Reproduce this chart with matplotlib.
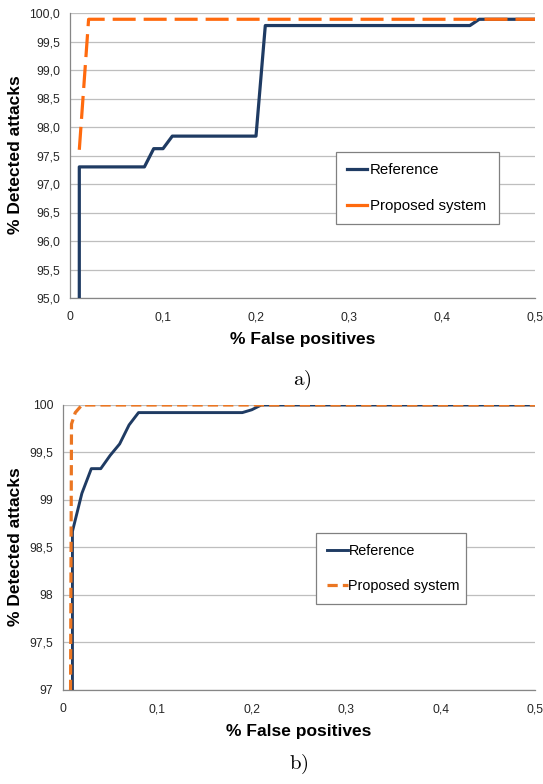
import numpy as np
import matplotlib
matplotlib.use("Agg")
import matplotlib.pyplot as plt

plt.rcParams['font.family'] = ['Liberation Sans', 'DejaVu Sans']
plt.rcParams['mathtext.fontset'] = 'cm'

# panel a)
a_ref_x = [0.01, 0.01, 0.08, 0.09, 0.10, 0.11, 0.20, 0.21, 0.43, 0.44, 0.50]
a_ref_y = [95.0, 97.30, 97.30, 97.62, 97.62, 97.84, 97.84, 99.78, 99.78, 99.89, 99.89]
a_prop_x = [0.01, 0.02, 0.50]
a_prop_y = [97.60, 99.89, 99.89]
a_yticks = [95.0, 95.5, 96.0, 96.5, 97.0, 97.5, 98.0, 98.5, 99.0, 99.5, 100.0]
a_ylabels = ['95,0', '95,5', '96,0', '96,5', '97,0', '97,5', '98,0', '98,5', '99,0', '99,5', '100,0']

# panel b)
b_ref_x = [0.01, 0.01, 0.02, 0.03, 0.04, 0.05, 0.06, 0.07, 0.08, 0.19, 0.20, 0.21, 0.50]
b_ref_y = [97.0, 98.67, 99.07, 99.33, 99.33, 99.47, 99.59, 99.79, 99.92, 99.92, 99.95, 100.0, 100.0]
b_prop_x = [0.008, 0.009, 0.013, 0.02, 0.50]
b_prop_y = [97.0, 99.80, 99.92, 100.0, 100.0]
b_yticks = [97.0, 97.5, 98.0, 98.5, 99.0, 99.5, 100.0]
b_ylabels = ['97', '97,5', '98', '98,5', '99', '99,5', '100']

xticks = [0, 0.1, 0.2, 0.3, 0.4, 0.5]
xlabels = ['0', '0,1', '0,2', '0,3', '0,4', '0,5']

navy = '#1F3B63'
W, H = 543, 784

fig = plt.figure(figsize=(W / 100, H / 100), dpi=100)


def setup(ax, yticks, ylabels):
    ax.set_xlim(0, 0.5)
    ax.set_ylim(yticks[0], yticks[-1])
    ax.set_xticks(xticks)
    ax.set_xticklabels(xlabels)
    ax.set_yticks(yticks)
    ax.set_yticklabels(ylabels)
    ax.tick_params(length=0, labelsize=8.7, colors='#262626')
    ax.tick_params(axis='x', pad=9.5)
    ax.tick_params(axis='y', pad=7)
    ax.grid(axis='y', color='#BEBEBE', lw=0.9)
    ax.set_axisbelow(True)
    for s in ['top', 'right']:
        ax.spines[s].set_visible(False)
    for s in ['left', 'bottom']:
        ax.spines[s].set_color('#868686')
        ax.spines[s].set_linewidth(0.9)
    ax.set_xlabel('% False positives', fontsize=12.5, fontweight='bold', labelpad=6)


# a)
ax1 = fig.add_axes([70 / W, 1 - 298 / H, 465 / W, 285 / H])
setup(ax1, a_yticks, a_ylabels)
ax1.plot(a_ref_x, a_ref_y, color=navy, lw=2.3, label='Reference', zorder=3)
ax1.plot(a_prop_x, a_prop_y, color='#FF6A0E', lw=2.3, dashes=(7.2, 2.5),
         label='Proposed system', zorder=4)
leg1 = ax1.legend(loc='upper left', bbox_to_anchor=(336 / W, 1 - 152 / H, 163 / W, 0),
                  bbox_transform=fig.transFigure, mode='expand', fontsize=10.8,
                  handlelength=1.3, handletextpad=0.2, labelspacing=1.45,
                  borderpad=0.75, fancybox=False, framealpha=1, borderaxespad=0)
leg1.get_frame().set_edgecolor('#808080')
leg1.get_frame().set_linewidth(0.9)
for h in leg1.get_lines():
    h.set_linestyle('-')
fig.text(16 / W, 1 - 155 / H, '% Detected attacks', rotation=90, fontsize=12.5,
         fontweight='bold', ha='center', va='center')
fig.text(302 / W, 1 - 380 / H, r'$\mathrm{a)}$', fontsize=15, ha='center', va='center')

# b)
ax2 = fig.add_axes([63 / W, 1 - 690 / H, 472 / W, 285 / H])
setup(ax2, b_yticks, b_ylabels)
ax2.plot(b_ref_x, b_ref_y, color=navy, lw=2.1, label='Reference', zorder=3)
ax2.plot(b_prop_x, b_prop_y, color='#EB7622', lw=2.3, dashes=(3.2, 1.6),
         label='Proposed system', zorder=4)
leg2 = ax2.legend(loc='upper left', bbox_to_anchor=(316 / W, 1 - 533 / H, 150 / W, 0),
                  bbox_transform=fig.transFigure, mode='expand', fontsize=10.4,
                  handlelength=1.45, handletextpad=0.05, labelspacing=1.45,
                  borderpad=0.75, fancybox=False, framealpha=1, borderaxespad=0)
leg2.get_frame().set_edgecolor('#808080')
leg2.get_frame().set_linewidth(0.9)
fig.text(16 / W, 1 - 547 / H, '% Detected attacks', rotation=90, fontsize=12.5,
         fontweight='bold', ha='center', va='center')
fig.text(299 / W, 1 - 764 / H, r'$\mathrm{b)}$', fontsize=15, ha='center', va='center')

fig.savefig('out.png', dpi=100)
